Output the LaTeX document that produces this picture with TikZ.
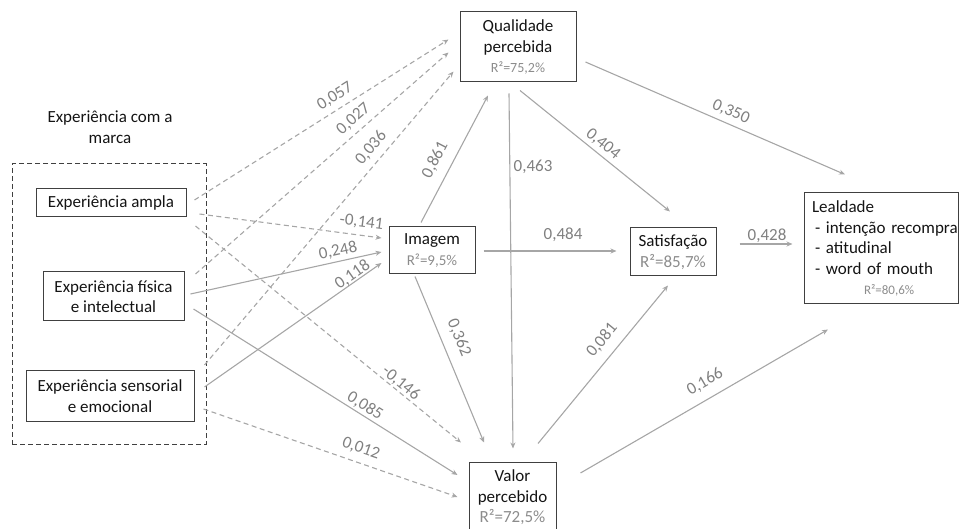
\documentclass[tikz,border=0pt]{standalone}
\usepackage{fontspec}
\setmainfont{Carlito}
\usetikzlibrary{arrows.meta}
\definecolor{lnc}{RGB}{166,166,166}
\definecolor{lblc}{RGB}{128,128,128}
\definecolor{rc}{RGB}{140,140,140}
\definecolor{bdc}{RGB}{64,64,64}
\definecolor{txc}{RGB}{20,20,20}
\newcommand{\rsq}[2][15]{{\fontsize{#1}{20}\selectfont\color{rc}#2}}
\begin{document}
\begin{tikzpicture}[x=1pt,y=-1pt,
  box/.style={draw=bdc, line width=1pt, inner sep=0pt, align=center, font=\fontsize{17}{20.5}\selectfont, text=txc},
  conn/.style={draw=lnc, line width=1.1pt, -{Stealth[length=6pt,width=5pt]}},
  dconn/.style={conn, dash pattern=on 5pt off 3.5pt},
  lbl/.style={text=lblc, font=\fontsize{17}{20}\selectfont, inner sep=0pt},
]
\useasboundingbox (0,0) rectangle (959,529);
\clip (0,0) rectangle (959,529);

% group
\node[draw=bdc, line width=1pt, dash pattern=on 5pt off 3pt, minimum width=194pt, minimum height=280pt, inner sep=0pt] (grp) at (109,304) {};
\node[align=center, font=\fontsize{17}{20.5}\selectfont, text=txc, inner sep=0pt] (ttl) at (110,127) {Experiência com a\\marca};

% nodes
\node[box, minimum width=150pt, minimum height=28pt] (amp) at (111,203) {Experiência ampla};
\node[box, minimum width=141pt, minimum height=49pt] (fis) at (113.5,296.5) {Experiência física\\e intelectual};
\node[box, minimum width=168pt, minimum height=50pt] (sen) at (110,396) {Experiência sensorial\\e emocional};

\node[box, minimum width=116pt, minimum height=70pt] (q) at (518,47) {Qualidade\\percebida\\\rsq[14]{R²=75,2\%}};
\node[box, minimum width=86pt, minimum height=47pt] (img) at (432,250.5) {Imagem\\\rsq[15]{R²=9,5\%}};
\node[box, minimum width=86pt, minimum height=48pt] (sat) at (673,252) {Satisfação\\\rsq[17]{R²=85,7\%}};
\node[box, minimum width=87pt, minimum height=71pt] (val) at (512.5,497.5) {Valor\\percebido\\\rsq[17]{R²=72,5\%}};
\node[box, minimum width=154pt, minimum height=111pt, align=left, text width=150pt] (leal) at (881,248.5) {\mbox{\hspace*{6pt}Lealdade}\\\mbox{\hspace*{9pt}- intenção recompra}\\\mbox{\hspace*{9pt}- atitudinal}\\\mbox{\hspace*{9pt}- word of mouth}\\\mbox{\hspace*{58pt}\rsq[13]{R²=80,6\%}}};

% connectors
\draw[dconn] ([shift={(8,-3)}]amp.east) -- ([shift={(-11,-7.5)}]q.west);
\draw[dconn] ([shift={(13,11)}]amp.east) -- ([shift={(-7,-12.5)}]img.west);
\draw[dconn] ([shift={(9,23)}]amp.east) -- ([shift={(-51.5,-19)}]val.north);
\draw[dconn] ([shift={(11,-22.5)}]fis.east) -- ([shift={(-11,5.5)}]q.west);
\draw[conn] ([shift={(6,-2.5)}]fis.east) -- ([shift={(-7,1.5)}]img.west);
\draw[conn] ([shift={(9,12.5)}]fis.east) -- ([shift={(-11,-22.5)}]val.west);
\draw[dconn] ([shift={(10,-31)}]sen.east) -- ([shift={(-6,24.5)}]q.west);
\draw[conn] ([shift={(10,-9)}]sen.east) -- ([shift={(-7,12.5)}]img.west);
\draw[dconn] ([shift={(9,13)}]sen.east) -- ([shift={(-11,-0.5)}]val.west);
\draw[conn] ([shift={(-11,-4)}]img.north) -- ([shift={(-30,13)}]q.south);
\draw[conn] ([shift={(8,0.5)}]img.east) -- ([shift={(-13,-1)}]sat.west);
\draw[conn] ([shift={(-17,2)}]img.south) -- ([shift={(-28.5,-19)}]val.north);
\draw[conn] ([shift={(-9,11)}]q.south) -- ([shift={(0.5,-13)}]val.north);
\draw[conn] ([shift={(2,8)}]q.south) -- ([shift={(-3,-16)}]sat.north);
\draw[conn] ([shift={(9,15)}]q.east) -- ([shift={(-36,-18)}]leal.north);
\draw[conn] ([shift={(23,-8)}]sat.east) -- ([shift={(-11,-4.5)}]leal.west);
\draw[conn] ([shift={(25.5,-18)}]val.north) -- ([shift={(-5,9)}]sat.south);
\draw[conn] ([shift={(24,-24.5)}]val.east) -- ([shift={(-53,25)}]leal.south);

% labels
\node[lbl, rotate=32.3] (l1) at (335,96.5) {0,057};
\node[lbl, rotate=41.2] (l2) at (353.5,119) {0,027};
\node[lbl, rotate=49.6] (l3) at (371,148) {0,036};
\node[lbl, rotate=62.6] (l4) at (435,160) {0,861};
\node[lbl] (l5) at (533,167) {0,463};
\node[lbl, rotate=-39.4] (l6) at (603,144) {0,404};
\node[lbl, rotate=-23.4] (l7) at (731,112) {0,350};
\node[lbl, rotate=-7.5] (l8) at (361.5,222.5) {-0,141};
\node[lbl, rotate=12.3] (l9) at (338,251) {0,248};
\node[lbl, rotate=34.9] (l10) at (352.5,275) {0,118};
\node[lbl] (l11) at (563,235) {0,484};
\node[lbl, rotate=-67.5] (l12) at (459,338) {0,362};
\node[lbl, rotate=50.7] (l13) at (602,340) {0,081};
\node[lbl] (l14) at (767,236) {0,428};
\node[lbl, rotate=-39.2] (l15) at (401,383) {-0,146};
\node[lbl, rotate=-32.1] (l16) at (365,406) {0,085};
\node[lbl, rotate=-19] (l17) at (361,448.5) {0,012};
\node[lbl, rotate=30.1] (l18) at (705,382) {0,166};
\end{tikzpicture}
\end{document}
